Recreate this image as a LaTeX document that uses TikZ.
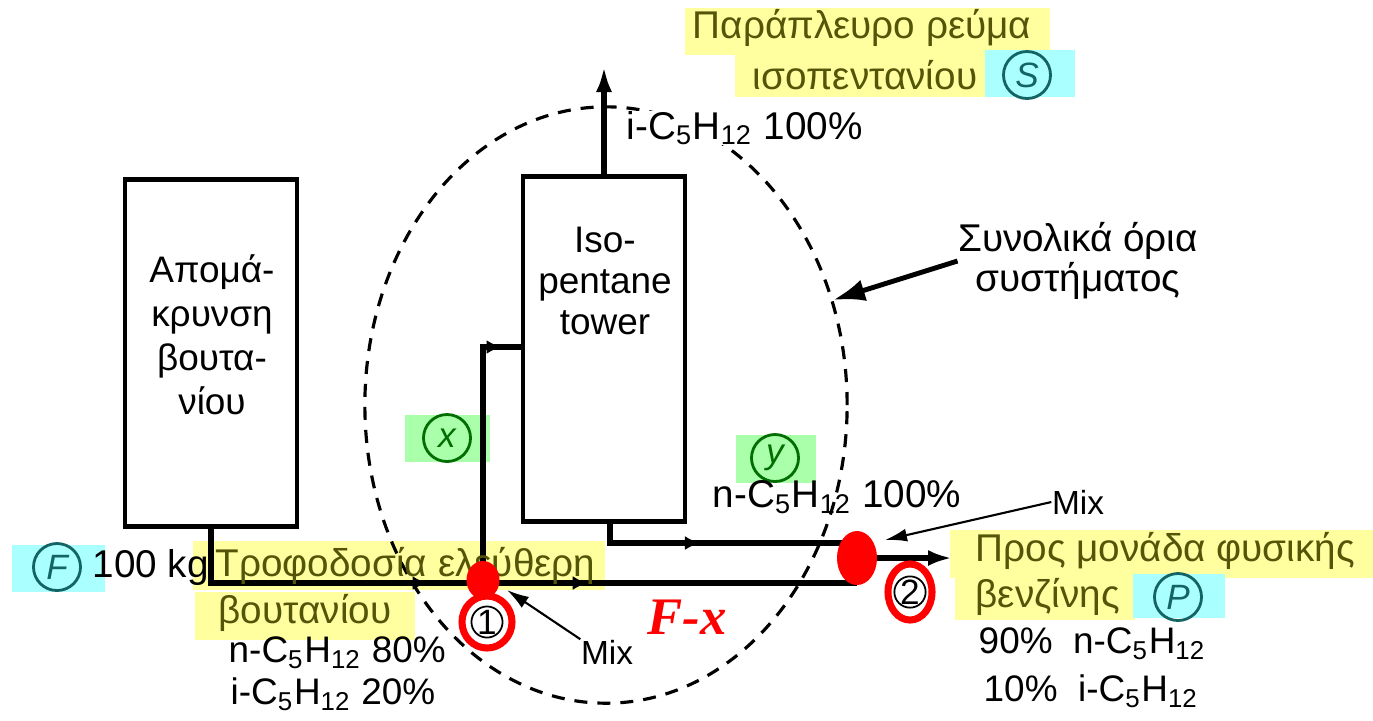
\documentclass[tikz,border=0pt]{standalone}
\usepackage{fontspec}
\setmainfont{Liberation Sans}
\newfontfamily\fxfont{Liberation Serif}
\usetikzlibrary{arrows.meta,decorations.markings}

\definecolor{hlyellow}{RGB}{255,255,160}
\definecolor{hlcyan}{RGB}{170,255,255}
\definecolor{hlgreen}{RGB}{170,255,170}
\definecolor{tagteal}{RGB}{20,100,100}
\definecolor{taggreen}{RGB}{0,110,0}
\definecolor{hltext}{RGB}{85,85,10}
\definecolor{markred}{RGB}{255,0,0}

\newcommand\cfive[1]{#1-C\textsubscript{5}H\textsubscript{12}}

\tikzset{
  unit/.style={draw, line width=1.3pt},
  boxtext/.style={align=center, font=\fontsize{10.5}{12.5}\selectfont},
  pipe/.style={line width=1.7pt},
  midarrow/.style={postaction={decorate}, decoration={markings,
    mark=at position #1 with {\arrow{Latex[length=1.5mm, width=1.4mm]}}}},
  pointer/.style={line width=0.6pt, -{Latex[length=2.2mm, width=1.3mm]}},
  bndarrow/.style={line width=1.4pt, -{Latex[length=3.2mm, width=2.2mm]}},
  boundary/.style={line width=0.9pt, dash pattern=on 0.13cm off 0.1cm},
  hl/.style={text=hltext},
  comp/.style={anchor=west, font=\fontsize{10.5}{12}\selectfont},
  tag/.style={circle, draw=#1, text=#1, line width=0.8pt, minimum size=0.47cm,
    inner sep=0pt, font=\itshape\fontsize{10}{10}\selectfont},
  numtag/.style={circle, draw, line width=0.5pt, minimum size=0.3cm, inner sep=0pt,
    font=\fontsize{10}{10}\selectfont}
}

\begin{document}
\begin{tikzpicture}[x=0.01cm, y=-0.01cm,
  every node/.style={font=\fontsize{11}{13}\selectfont, inner sep=0pt}]
  \useasboundingbox (0,0) rectangle (1373,720);

  % highlights
  \fill[hlyellow] (685,8) rectangle (1050,55);
  \fill[hlyellow] (735,50) rectangle (990,97);
  \fill[hlcyan] (985,50) rectangle (1075,97);
  \fill[hlcyan] (12,545) rectangle (105,592);
  \fill[hlyellow] (193,541) rectangle (605,590);
  \fill[hlyellow] (195,592) rectangle (415,640);
  \fill[hlyellow] (950,530) rectangle (1373,578);
  \fill[hlyellow] (955,574) rectangle (1135,620);
  \fill[hlcyan] (1133,574) rectangle (1225,618);
  \fill[hlgreen] (405,415) rectangle (490,462);
  \fill[hlgreen] (736,435) rectangle (816,483);

  % system boundary
  \draw[boundary] (606,405) ellipse [x radius=2.41cm, y radius=2.98cm];

  % units
  \node[unit, minimum width=1.72cm, minimum height=3.47cm] (butrem) at (211,353) {};
  \node[unit, minimum width=1.62cm, minimum height=3.45cm] (tower) at (604,349) {};
  \node[boxtext] (butremlbl) at (212,335) {Απομά-\\κρυνση\\βουτα-\\νίου};
  \node[boxtext, font=\fontsize{10.5}{11.6}\selectfont] (towerlbl) at (605,281) {Iso-\\pentane\\tower};

  % mixing points
  \coordinate (mixA) at (483,583);
  \coordinate (mixB) at (857,558);
  \coordinate (xtop) at (483,347);
  \coordinate (ydrop) at (610,543);
  \coordinate (prodend) at (952,558);
  \coordinate (sideend) at (604,66);

  % streams
  \draw[pipe, midarrow=0.83] (butrem.south) |- (mixA);
  \draw[pipe, midarrow=0.28] (mixA) -- (mixB |- mixA);
  \draw[pipe, midarrow=0.93] (mixA) -- (xtop) -- (xtop -| tower.west);
  \draw[pipe, midarrow=0.41] (ydrop |- tower.south) -- (ydrop) -- (ydrop -| mixB);
  \draw[pipe, -{Latex[length=2.4mm, width=1.6mm]}] (mixB) -- (prodend);
  \draw[pipe, -{Latex[length=2.6mm, width=1.6mm]}] (tower.north) -- (sideend);

  % side stream
  \node[hl] (sidelbl1) at (862,28) {Παράπλευρο ρεύμα};
  \node[hl] (sidelbl2) at (865,75) {ισοπεντανίου};
  \node[tag=tagteal] (tagS) at (1027,75) {S};
  \node[anchor=west, fill=white] (sidecomp) at (626,128) {\cfive{i} 100\%};

  % boundary note
  \node[align=center, font=\fontsize{11}{11.2}\selectfont] (bndlbl) at (1078,261) {Συνολικά όρια\\συστήματος};
  \coordinate (bndtip) at (833,300);
  \draw[bndarrow] (bndlbl.west) -- (bndtip);

  % inner streams
  \node[tag=taggreen] (tagx) at (447,438) {x};
  \node[tag=taggreen] (tagy) at (775,458) {y};
  \node (ycomp) at (837,497) {\cfive{n} 100\%};

  % feed
  \node[tag=tagteal] (tagF) at (57,567) {F};
  \node[anchor=west] (feedamt) at (92,567) {100 kg};
  \node[hl, anchor=west] (feedlbl1) at (215,566) {Τροφοδοσία ελεύθερη};
  \node[hl, anchor=west] (feedlbl2) at (218,613) {βουτανίου};
  \node[comp] (feedcomp1) at (228,653) {\cfive{n} 80\%};
  \node[comp] (feedcomp2) at (230,694) {\cfive{i} 20\%};

  % mix pointers
  \node[font=\fontsize{9.5}{10}\selectfont] (mixlbl1) at (607,652) {Mix};
  \node[font=\fontsize{9.5}{10}\selectfont] (mixlbl2) at (1078,502) {Mix};
  \coordinate (mixAtip) at (507,590);
  \coordinate (mixBtip) at (885,540);
  \draw[pointer] (mixlbl1.north west) -- (mixAtip);
  \draw[pointer] (mixlbl2.west) -- (mixBtip);

  % product
  \node[hl, anchor=west] (prodlbl1) at (975,551) {Προς μονάδα φυσικής};
  \node[hl, anchor=west] (prodlbl2) at (975,597) {βενζίνης};
  \node[tag=tagteal] (tagP) at (1178,597) {P};
  \node[comp] (prodcomp1) at (978,644) {90\%\ \ \cfive{n}};
  \node[comp] (prodcomp2) at (983,691) {10\%\ \ \cfive{i}};

  % hand marks
  \node[numtag] (num1) at (487,622) {1};
  \node[numtag] (num2) at (910,592) {2};
  \draw[markred, line width=2pt] (num1) ellipse [x radius=0.25cm, y radius=0.26cm];
  \draw[markred, line width=2pt] (num2) ellipse [x radius=0.22cm, y radius=0.28cm];
  \fill[markred] (483,580) ellipse [x radius=0.165cm, y radius=0.19cm];
  \fill[markred] (mixB) ellipse [x radius=0.2cm, y radius=0.27cm];
  \node[font={\fxfont\bfseries\itshape\fontsize{15}{15}\selectfont}, text=markred] (fxlbl) at (687,617) {F-x};
\end{tikzpicture}
\end{document}
